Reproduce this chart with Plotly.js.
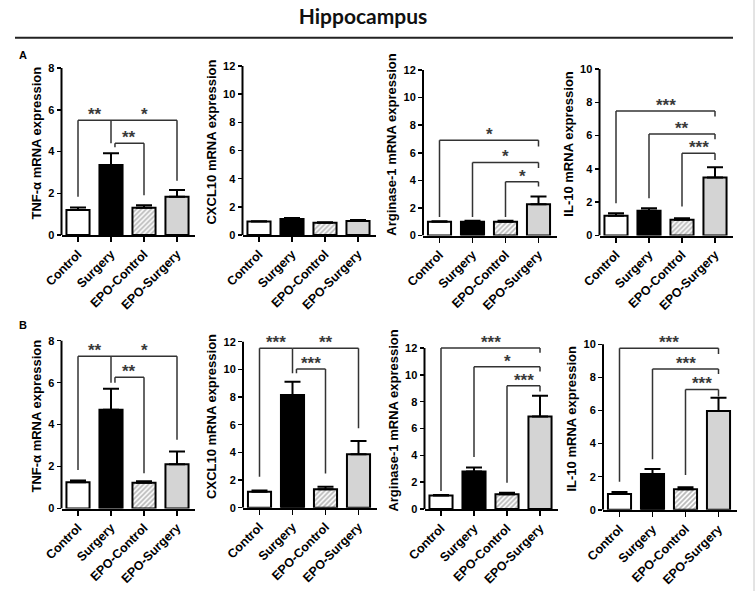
<!DOCTYPE html>
<html>
<head>
<meta charset="utf-8">
<script src="https://cdn.plot.ly/plotly-3.0.1.min.js"></script>
<style>
  html, body { margin: 0; padding: 0; background: #fff; }
  #chart { width: 755px; height: 591px; }
</style>
</head>
<body>
<div id="chart"></div>
<script>
// Treatment groups
const groups = ['Control', 'Surgery', 'EPO-Control', 'EPO-Surgery'];

// Relative mRNA expression (mean) and SEM, row A
const tnfA_mean  = [1.20, 3.35, 1.30, 1.83];
const tnfA_sem   = [0.12, 0.57, 0.12, 0.32];
const cxclA_mean = [0.95, 1.13, 0.87, 1.00];
const cxclA_sem  = [0.03, 0.07, 0.03, 0.07];
const argA_mean  = [1.00, 1.00, 1.00, 2.27];
const argA_sem   = [0.03, 0.07, 0.07, 0.56];
const il10A_mean = [1.18, 1.48, 0.94, 3.48];
const il10A_sem  = [0.16, 0.16, 0.10, 0.62];

// Relative mRNA expression (mean) and SEM, row B
const tnfB_mean  = [1.25, 4.71, 1.23, 2.11];
const tnfB_sem   = [0.08, 1.00, 0.07, 0.61];
const cxclB_mean = [1.16, 8.15, 1.33, 3.86];
const cxclB_sem  = [0.08, 0.95, 0.19, 0.96];
const argB_mean  = [1.00, 2.80, 1.10, 6.90];
const argB_sem   = [0.05, 0.30, 0.12, 1.55];
const il10B_mean = [0.95, 2.16, 1.24, 5.97];
const il10B_sem  = [0.12, 0.30, 0.12, 0.80];

// Significance brackets: [from, to, level, left leg end, right leg end, label]
const tnfA_sig  = [[0, 1, 5.5, 1.83, 4.4, '**'], [1, 3, 5.5, 5.5, 2.6, '*'], [1.12, 2, 4.4, 4.2, 1.9, '**']];
const cxclA_sig = [];
const argA_sig  = [[0, 3, 6.9, 1.35, 6.45, '*'], [1, 3, 5.3, 1.35, 4.9, '*'], [2, 3, 3.9, 1.35, 3.55, '*']];
const il10A_sig = [[0, 3, 7.48, 1.94, 7.14, '***'], [1, 3, 6.1, 2.24, 5.78, '**'], [2, 3, 4.94, 1.74, 4.54, '***']];
const tnfB_sig  = [[0, 1, 7.26, 1.84, 6.0, '**'], [1, 3, 7.26, 7.26, 3.28, '*'], [1.12, 2, 6.26, 6.0, 1.68, '**']];
const cxclB_sig = [[0, 1, 11.52, 2.24, 9.72, '***'], [1, 3, 11.52, 11.52, 5.74, '**'], [1.12, 2, 10.03, 9.72, 2.48, '***']];
const argB_sig  = [[0, 3, 12.0, 1.35, 11.65, '***'], [1, 3, 10.6, 3.87, 10.24, '*'], [2, 3, 9.18, 1.95, 8.76, '***']];
const il10B_sig = [[0, 3, 9.76, 1.7, 9.41, '***'], [1, 3, 8.5, 3.05, 8.2, '***'], [2, 3, 7.27, 2.1, 6.85, '***']];

// Axis tick values
const ticks8  = [0, 2, 4, 6, 8];
const ticks10 = [0, 2, 4, 6, 8, 10];
const ticks12 = [0, 2, 4, 6, 8, 10, 12];

const W = 755, H = 591;
const FONT = '"Liberation Sans", Arial, Helvetica, sans-serif';
const SPACING = 33; // px per category

// Panel placement (pixels): left = plot left edge, zero = y of value 0, top = y of top tick
const panels = [
  { mean: tnfA_mean,  sem: tnfA_sem,  sig: tnfA_sig,  title: 'TNF-α mRNA expression',       ticks: ticks8,  left: 61.5,  zero: 235,   top: 68 },
  { mean: cxclA_mean, sem: cxclA_sem, sig: cxclA_sig, title: 'CXCL10 mRNA expression',      ticks: ticks12, left: 242.5, zero: 235,   top: 66 },
  { mean: argA_mean,  sem: argA_sem,  sig: argA_sig,  title: 'Arginase-1 mRNA expression',  ticks: ticks12, left: 423,   zero: 235.5, top: 70 },
  { mean: il10A_mean, sem: il10A_sem, sig: il10A_sig, title: 'IL-10 mRNA expression',       ticks: ticks10, left: 599.5, zero: 235.5, top: 69 },
  { mean: tnfB_mean,  sem: tnfB_sem,  sig: tnfB_sig,  title: 'TNF-α mRNA expression',       ticks: ticks8,  left: 61.5,  zero: 508.5, top: 340.7 },
  { mean: cxclB_mean, sem: cxclB_sem, sig: cxclB_sig, title: 'CXCL10 mRNA expression',      ticks: ticks12, left: 243,   zero: 507.7, top: 341.7 },
  { mean: argB_mean,  sem: argB_sem,  sig: argB_sig,  title: 'Arginase-1 mRNA expression',  ticks: ticks12, left: 424.5, zero: 509,   top: 348 },
  { mean: il10B_mean, sem: il10B_sem, sig: il10B_sig, title: 'IL-10 mRNA expression',       ticks: ticks10, left: 603,   zero: 509.8, top: 344.3 }
];

const fills = ['#ffffff', '#000000', '#b8b8b8', '#d4d4d4'];
const hatch = ['', '', '/', ''];

const traces = [];
const shapes = [];
const annotations = [];
const layout = {
  width: W, height: H,
  margin: { l: 0, r: 0, t: 0, b: 0 },
  paper_bgcolor: '#fff',
  plot_bgcolor: 'rgba(0,0,0,0)',
  showlegend: false,
  font: { family: FONT, color: '#000' },
  title: {
    text: 'Hippocampus',
    font: { family: 'Lato, "Open Sans", sans-serif', size: 21, weight: 'bold', color: '#111' },
    x: 363 / W, y: 1 - 17 / H, xanchor: 'center', yanchor: 'middle', xref: 'paper', yref: 'paper'
  }
};

panels.forEach((p, k) => {
  const n = k + 1;
  const sfx = n === 1 ? '' : String(n);
  const xa = 'x' + sfx, ya = 'y' + sfx;
  const ymax = p.ticks[p.ticks.length - 1];
  const ppu = (p.zero - p.top) / ymax;
  const yTop = ymax * 1.1;
  const topPx = p.zero - ppu * yTop;

  layout['xaxis' + sfx] = {
    domain: [p.left / W, (p.left + 4.05 * SPACING) / W],
    range: [-0.5, 3.55],
    type: 'category',
    anchor: ya,
    showline: true, linecolor: '#000', linewidth: 2,
    ticks: 'outside', ticklen: 5, tickwidth: 1.5, tickcolor: '#000',
    tickangle: -45,
    tickfont: { family: FONT, size: 12.5, weight: 'bold', color: '#000' },
    showgrid: false, zeroline: false, fixedrange: true
  };
  layout['yaxis' + sfx] = {
    domain: [1 - p.zero / H, 1 - topPx / H],
    range: [0, yTop],
    anchor: xa,
    tickmode: 'array', tickvals: p.ticks,
    showline: false, showgrid: false, zeroline: false,
    ticks: 'outside', ticklen: 4, tickwidth: 1.5, tickcolor: '#000',
    tickfont: { family: FONT, size: 11, weight: 'bold', color: '#000' },
    title: { text: p.title, font: { family: FONT, size: 13, weight: 'bold', color: '#000' }, standoff: 3 },
    fixedrange: true
  };

  // y axis line ends at the top tick
  shapes.push({
    type: 'line', xref: xa + ' domain', yref: ya,
    x0: 0, x1: 0, y0: 0, y1: ymax,
    line: { color: '#000', width: 2 }
  });

  traces.push({
    type: 'bar',
    x: groups, y: p.mean,
    xaxis: xa, yaxis: ya,
    width: 0.7,
    marker: {
      color: fills,
      line: { color: '#000', width: 2 },
      pattern: { shape: hatch, fgcolor: '#2e2e2e', size: 3.5, solidity: 0.5 }
    },
    error_y: {
      type: 'data', symmetric: false,
      array: p.sem, arrayminus: p.sem.map(() => 0),
      color: '#000', thickness: 2, width: 8
    },
    hoverinfo: 'skip'
  });

  p.sig.forEach(([a, b, lvl, lowA, lowB, label]) => {
    const ln = { color: '#333', width: 1.5 };
    if (lowA < lvl) shapes.push({ type: 'line', xref: xa, yref: ya, x0: a, x1: a, y0: lowA, y1: lvl, line: ln });
    shapes.push({ type: 'line', xref: xa, yref: ya, x0: a, x1: b, y0: lvl, y1: lvl, line: ln });
    if (lowB < lvl) shapes.push({ type: 'line', xref: xa, yref: ya, x0: b, x1: b, y0: lowB, y1: lvl, line: ln });
    annotations.push({
      xref: xa, yref: ya, x: (a + b) / 2, y: lvl,
      text: label, showarrow: false, xanchor: 'center', yanchor: 'bottom', yshift: -6,
      font: { family: FONT, size: 17, weight: 'bold', color: '#3a3a3a' }
    });
  });
});

// Header rule, panel letters and frame edge
shapes.push({ type: 'line', xref: 'paper', yref: 'paper', x0: 15 / W, x1: 733 / W, y0: 1 - 37.7 / H, y1: 1 - 37.7 / H, line: { color: '#222', width: 2 } });
shapes.push({ type: 'line', xref: 'paper', yref: 'paper', x0: 754 / W, x1: 754 / W, y0: 0, y1: 1, line: { color: '#c8c8c8', width: 1 } });
annotations.push({ xref: 'paper', yref: 'paper', x: 23 / W, y: 1 - 55 / H, text: 'A', showarrow: false, xanchor: 'center', yanchor: 'middle', font: { family: FONT, size: 11, weight: 'bold', color: '#000' } });
annotations.push({ xref: 'paper', yref: 'paper', x: 23 / W, y: 1 - 325 / H, text: 'B', showarrow: false, xanchor: 'center', yanchor: 'middle', font: { family: FONT, size: 11, weight: 'bold', color: '#000' } });

layout.shapes = shapes;
layout.annotations = annotations;

Plotly.newPlot('chart', traces, layout, { displayModeBar: false, staticPlot: true });
</script>
</body>
</html>
